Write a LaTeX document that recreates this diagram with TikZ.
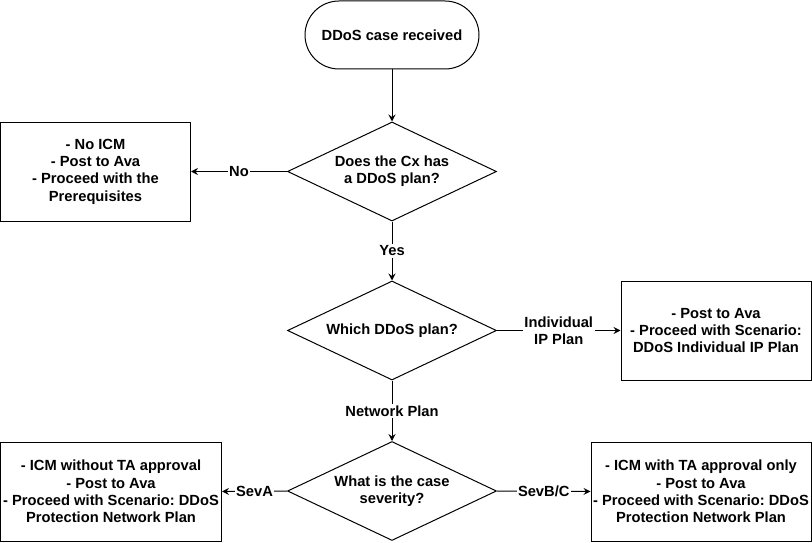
\documentclass[tikz,border=0pt]{standalone}
\usepackage{fontspec}
\setmainfont{Liberation Sans}
\usetikzlibrary{shapes.geometric,arrows.meta}
\frenchspacing
\begin{document}
\begin{tikzpicture}[x=1pt,y=-1pt,
  every node/.style={font=\fontsize{14.7}{17.3}\selectfont\bfseries, align=center, text=black},
  term/.style={draw, line width=1pt, rounded corners=34pt, minimum width=174pt, minimum height=68pt, inner sep=0pt},
  dec/.style={draw, line width=1pt, diamond, aspect=2.1, minimum width=209pt, minimum height=99pt, inner sep=0pt},
  box/.style={draw, line width=1pt, rectangle, inner sep=0pt, minimum height=99pt},
  lbl/.style={fill=white, inner sep=1.5pt},
  arr/.style={draw, line width=1pt, -{Stealth[length=7pt,width=7pt,inset=2.5pt]}}
]
\useasboundingbox (0,0) rectangle (812,543);

\node[term] (start) at (392,35) {DDoS case received};
\node[dec] (d1) at (392,171.5) {Does the Cx has\\a DDoS plan?};
\node[box, minimum width=190pt] (b1) at (95.5,171.5) {- No ICM\\- Post to Ava\\- Proceed with the\\Prerequisites};
\node[dec] (d2) at (392,330.5) {Which DDoS plan?};
\node[box, minimum width=190pt] (b2) at (716,330.5) {- Post to Ava\\- Proceed with Scenario:\\DDoS Individual IP Plan};
\node[dec] (d3) at (392,491) {What is the case\\severity?};
\node[box, minimum width=221pt] (b3) at (111,491.5) {- ICM without TA approval\\- Post to Ava\\- Proceed with Scenario: DDoS\\Protection Network Plan};
\node[box, minimum width=220pt] (b4) at (701,491.5) {- ICM with TA approval only\\- Post to Ava\\- Proceed with Scenario: DDoS\\Protection Network Plan};

\draw[arr] (start) -- (d1);
\draw[arr] (d1.west) -- node[lbl] {No} (b1.east);
\draw[arr] (d1.south) -- node[lbl] {Yes} (d2.north);
\draw[arr] (d2.east) -- node[lbl] {Individual\\IP Plan} (b2.west);
\draw[arr] (d2.south) -- node[lbl] {Network Plan} (d3.north);
\draw[arr] (d3.west) -- node[lbl] {SevA} (b3.east);
\draw[arr] (d3.east) -- node[lbl] {SevB/C} (b4.west);
\end{tikzpicture}
\end{document}
